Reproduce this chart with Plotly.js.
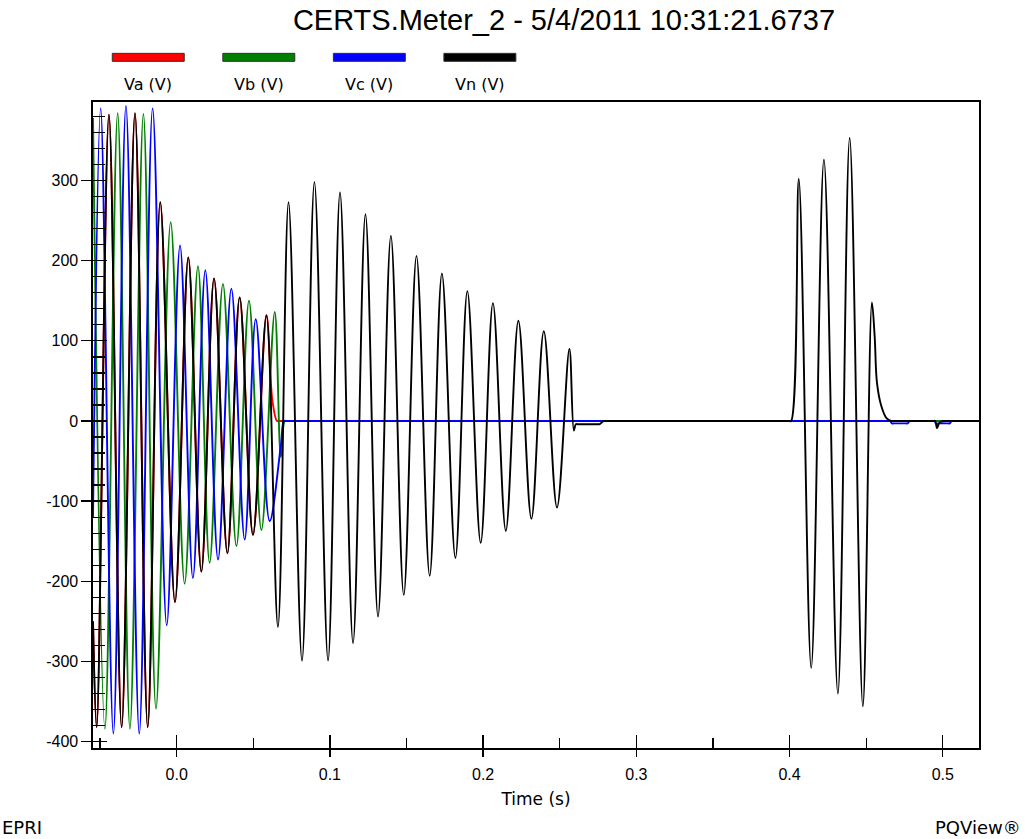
<!DOCTYPE html>
<html>
<head>
<meta charset="utf-8">
<script src="https://cdn.plot.ly/plotly-3.0.1.min.js"></script>
<style>html,body{margin:0;padding:0;background:#fff;}#chart{width:1025px;height:839px;}</style>
</head>
<body>
<div id="chart"></div>
<script>
// ---- data (extrema / break points of each waveform) ----
const chartTitle = "CERTS.Meter_2 - 5/4/2011 10:31:21.6737";
const seriesNames = ["Va (V)", "Vb (V)", "Vc (V)", "Vn (V)"];
const seriesColors = ["#ff0000", "#008000", "#0000ff", "#000000"];
const xTitle = "Time (s)";
const yTickVals = [-400, -300, -200, -100, 0, 100, 200, 300];
const yTickText = ["-400", "-300", "-200", "-100", "0", "100", "200", "300"];

const t_Va = [-0.0546, -0.0522, -0.0442, -0.0359, -0.0272, -0.0189, -0.0107, -0.0011, 0.0076, 0.0161, 0.0244, 0.0331, 0.0411, 0.0498, 0.0586, 0.0625, 0.0655, 0.0670, 0.5220, 0.5236];
const v_Va = [-250, -382, 382, -382, 384, -382, 273, -226, 204, -188, 178, -165, 154, -142, 132, 25, 0, 0, 0, 0];

const t_Vb = [-0.0546, -0.0468, -0.0385, -0.0305, -0.0217, -0.0135, -0.0039, 0.0052, 0.0139, 0.0215, 0.0302, 0.0390, 0.0472, 0.0553, 0.0640, 0.0680, 0.0705, 0.0720, 0.5220, 0.5236];
const v_Vb = [378, -384, 384, -384, 383, -359, 248, -203, 193, -177, 171, -156, 150, -136, 136, -45, 0, 0, 0, 0];

const t_Vc = [-0.0546, -0.0496, -0.0413, -0.0331, -0.0244, -0.0157, -0.0065, 0.0022, 0.0106, 0.0187, 0.0270, 0.0357, 0.0444, 0.0516, 0.0607, 0.0680, 0.0700, 0.0715,
  0.4640, 0.4655, 0.4668, 0.4680, 0.4760, 0.4770, 0.4785, 0.4800, 0.4930, 0.4945, 0.4958, 0.4970, 0.5035, 0.5045, 0.5058, 0.5070, 0.5220, 0.5236];
const v_Vc = [-120, 390, -390, 393, -390, 390, -255, 219, -196, 188, -173, 165, -148, 127, -125, -30, 0, 0,
  0, 0, -3, -3, -3, -3, 0, 0, 0, 0, -4, -3, -3, -3, 0, 0, 0, 0];

const t_Vn = [-0.0546, -0.0522, -0.0442, -0.0359, -0.0272, -0.0189, -0.0107, -0.0011, 0.0076, 0.0161, 0.0244, 0.0331, 0.0411, 0.0498, 0.0586,
  0.0661, 0.0730, 0.0818, 0.0899, 0.0988, 0.1066, 0.1151, 0.1232, 0.1314, 0.1398, 0.1482, 0.1565, 0.1651, 0.1731, 0.1819, 0.1897, 0.1984, 0.2064, 0.2148, 0.2230, 0.2315, 0.2396, 0.2482, 0.2563,
  0.2592, 0.2605, 0.2620, 0.2745, 0.2760, 0.2785, 0.2800, 0.3995, 0.4010,
  0.4060, 0.4141, 0.4224, 0.4315, 0.4392, 0.4478, 0.4537, 0.4555, 0.4570, 0.4598, 0.4631, 0.4663, 0.4680,
  0.4935, 0.4950, 0.4962, 0.4978, 0.5000, 0.5015, 0.5220, 0.5236];
const v_Vn = [-250, -382, 382, -382, 384, -382, 273, -226, 204, -188, 178, -165, 154, -142, 132,
  -257, 273, -299, 298, -299, 285, -277, 258, -244, 231, -217, 206, -193, 184, -171, 162, -152, 147, -137, 125, -122, 112, -108, 90,
  -12, -4, -4, -4, -4, 0, 0, 0, 0,
  302, -308, 326, -340, 353, -356, 148, 106, 48, 19, 4, 0, 0,
  0, 0, -9, -2, 0, 0, 0, 0];

const xRange = [-0.0546, 0.5236];
const yRange = [-408, 398];

// ---- build chart ----
const FONT = "Liberation Sans, Arial, sans-serif";
const FONT2 = "DejaVu Sans, Verdana, sans-serif";
const W = 1025, H = 839;
const M = {l: 93, r: 45.5, t: 101.7, b: 90.7};
const plotW = W - M.l - M.r, plotH = H - M.t - M.b;
const px2paperX = px => (px - M.l) / plotW;
const px2paperY = py => (H - M.b - py) / plotH;

const tArr = [t_Va, t_Vb, t_Vc, t_Vn];
const vArr = [v_Va, v_Vb, v_Vc, v_Vn];
const traces = seriesNames.map((n, i) => ({
  type: "scatter", mode: "lines", name: n,
  x: tArr[i], y: vArr[i],
  line: {color: seriesColors[i], width: 1.9, shape: "spline", smoothing: 1},
  showlegend: false, hoverinfo: "x+y+name"
}));
// empty trace to carry the overlay axes used for the inner tick marks
traces.push({type: "scatter", mode: "lines", x: [], y: [], xaxis: "x2", yaxis: "y2", showlegend: false, hoverinfo: "skip"});

// legend drawn as coloured bars above labels
const shapes = [], annotations = [];
const legFont = {family: FONT2, size: 16, color: "#000"};
const cornerFont = {family: FONT2, size: 18, color: "#000"};
seriesNames.forEach((n, i) => {
  const cx = 148.3 + 110.6 * i;
  shapes.push({type: "rect", xref: "paper", yref: "paper",
    x0: px2paperX(cx - 36), x1: px2paperX(cx + 36), y0: px2paperY(61), y1: px2paperY(53),
    fillcolor: seriesColors[i], line: {color: "#303030", width: 1}});
  annotations.push({xref: "paper", yref: "paper", x: px2paperX(cx), y: px2paperY(84),
    text: n, showarrow: false, xanchor: "center", yanchor: "middle", font: legFont});
});
annotations.push({xref: "paper", yref: "paper", x: px2paperX(0), y: px2paperY(828), text: "EPRI",
  showarrow: false, xanchor: "left", yanchor: "middle", font: cornerFont});
annotations.push({xref: "paper", yref: "paper", x: px2paperX(1024), y: px2paperY(828), text: "PQView®",
  showarrow: false, xanchor: "right", yanchor: "middle", font: cornerFont});

const tickFont = {family: FONT, size: 16, color: "#000"};
const layout = {
  width: W, height: H, margin: M,
  paper_bgcolor: "#fff", plot_bgcolor: "#fff",
  title: {text: chartTitle, x: 564 / W, xanchor: "center", y: 1 - 20 / H, yanchor: "middle",
    font: {family: FONT, size: 29, color: "#000"}},
  xaxis: {range: xRange, tickmode: "linear", tick0: 0, dtick: 0.1, tickformat: ".1f",
    ticks: "outside", ticklen: 7, tickwidth: 1.3, tickcolor: "#000", ticklabelstandoff: 4,
    showline: true, mirror: true, linecolor: "#000", linewidth: 1.6,
    showgrid: false, zeroline: false, tickfont: tickFont,
    title: {text: xTitle, font: {family: FONT2, size: 17, color: "#000"}, standoff: 11}},
  yaxis: {range: yRange, tickmode: "array", tickvals: yTickVals, ticktext: yTickText,
    ticks: "outside", ticklen: 10, tickwidth: 1.3, tickcolor: "#000",
    showline: true, mirror: true, linecolor: "#000", linewidth: 1.6,
    showgrid: false, zeroline: false, tickfont: tickFont},
  xaxis2: {overlaying: "x", anchor: "y", side: "bottom", range: xRange, tickmode: "linear", tick0: 0, dtick: 0.1,
    ticks: "inside", ticklen: 13, tickwidth: 1.3, tickcolor: "#000", showticklabels: false,
    showline: false, showgrid: false, zeroline: false,
    minor: {ticks: "inside", ticklen: 10, tickwidth: 1.3, tickcolor: "#000", tick0: 0, dtick: 0.05, showgrid: false}},
  yaxis2: {overlaying: "y", anchor: "x", side: "left", range: yRange, tickmode: "linear", tick0: 0, dtick: 100,
    ticks: "inside", ticklen: 14, tickwidth: 1.3, tickcolor: "#000", showticklabels: false,
    showline: false, showgrid: false, zeroline: false,
    minor: {ticks: "inside", ticklen: 12, tickwidth: 1.3, tickcolor: "#000", tick0: 0, dtick: 20, showgrid: false}},
  shapes: shapes, annotations: annotations,
  showlegend: false, font: {family: FONT, color: "#000"}
};
Plotly.newPlot("chart", traces, layout, {displayModeBar: false, staticPlot: true});
</script>
</body>
</html>
